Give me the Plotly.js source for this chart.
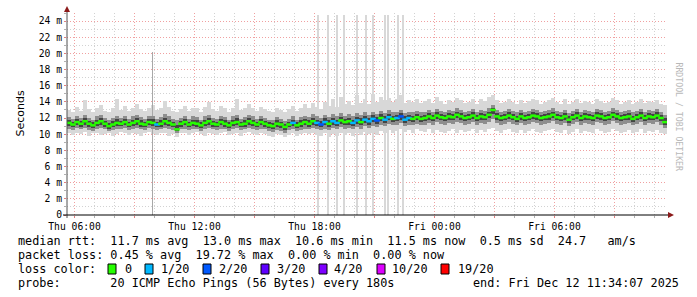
<!DOCTYPE html>
<html>
<head>
<meta charset="utf-8">
<script src="https://cdn.plot.ly/plotly-3.0.1.min.js"></script>
<style>html,body{margin:0;padding:0;background:#fff;}#chart{width:697px;height:297px;}</style>
</head>
<body>
<div id="chart"></div>
<script>
// ---- data (ms) ----
const sampleStart = '2025-12-11 05:37:30';
const sampleStepMin = 12;

const medianRtt = [
11.4,11.2,11.5,11.3,11.6,11.3,11.1,11.4,11.6,11.3,
11.0,11.2,11.4,11.3,11.5,11.2,11.4,11.6,11.3,11.2,
11.5,11.4,11.2,11.3,11.6,11.4,11.2,10.6,11.3,11.5,
11.2,11.4,11.3,11.1,11.4,11.6,11.3,11.2,11.5,11.3,
11.1,11.4,11.5,11.2,11.3,11.6,11.4,11.2,11.5,11.3,
11.1,11.0,11.3,11.2,10.9,11.2,11.4,11.1,11.3,11.5,
11.3,11.6,11.4,11.2,11.5,11.3,11.6,11.4,11.7,11.5,
11.6,11.4,11.7,11.5,11.8,11.6,11.9,11.7,12.0,11.8,
12.1,11.9,12.0,12.2,11.8,12.0,11.9,12.1,11.9,12.0,
12.2,12.0,12.3,12.1,12.0,12.2,12.1,12.4,12.2,12.0,
12.1,12.3,12.0,12.2,12.1,12.4,13.0,12.2,12.0,12.1,
12.3,12.1,11.9,12.2,12.0,12.1,12.3,12.2,12.0,12.1,
12.2,12.4,12.1,12.0,12.2,11.8,12.1,12.3,12.0,12.2,
12.1,12.0,12.3,12.2,12.0,12.1,12.4,12.2,12.0,12.1,
12.2,11.9,12.1,12.3,12.0,12.2,12.1,12.3,12.0,11.5];

const lossCount = [
0,0,0,0,0,0,0,0,0,0, 0,0,0,0,0,0,0,0,0,0,
0,0,1,0,0,0,0,0,0,0, 0,0,0,0,0,0,0,0,0,0,
0,0,0,0,0,0,0,0,0,0, 0,0,0,0,0,0,1,0,0,0,
0,0,1,2,1,0,1,1,0,0, 0,1,1,0,1,1,1,2,0,1,
1,0,1,2,1,1,0,0,0,0, 0,0,0,0,0,0,0,0,0,0,
0,0,0,0,0,0,0,0,0,0, 0,0,0,0,0,0,0,0,0,0,
0,0,0,0,0,0,0,0,0,0, 0,0,0,0,0,0,0,0,0,0,
0,0,0,0,0,0,0,0,0,0];

const pingMin = [
10.1,9.9,10.2,10.0,10.3,9.8,10.1,10.2,9.9,10.0,
10.2,9.8,10.0,10.3,10.1,9.9,10.2,10.0,9.8,10.1,
10.3,10.0,9.9,10.2,10.1,9.8,10.0,9.7,10.1,10.2,
9.9,10.1,10.3,10.0,9.8,10.2,10.0,9.9,10.1,10.3,
9.9,10.0,10.2,9.8,10.1,10.3,10.0,9.9,10.2,10.0,
9.8,9.7,10.0,9.9,9.6,9.9,10.1,9.8,10.0,10.2,
10.0,10.2,9.9,9.8,10.1,9.7,10.0,9.8,10.2,9.9,
10.1,9.8,10.2,9.9,10.3,10.0,10.2,9.9,10.4,10.1,
10.5,10.2,10.4,10.6,10.3,10.5,10.2,10.6,10.4,10.3,
10.6,10.2,10.5,10.3,10.1,10.4,10.6,10.2,10.5,10.3,
10.4,10.6,10.2,10.5,10.3,10.6,10.8,10.4,10.2,10.5,
10.6,10.3,10.1,10.5,10.2,10.4,10.6,10.3,10.1,10.4,
10.5,10.7,10.3,10.2,10.5,10.0,10.3,10.6,10.2,10.4,
10.3,10.1,10.6,10.4,10.2,10.3,10.7,10.4,10.1,10.3,
10.5,10.1,10.3,10.6,10.2,10.4,10.3,10.5,10.2,10.0];

const pingLow = [
10.7,10.5,10.8,10.6,10.8,10.5,10.4,10.7,10.8,10.6,
10.4,10.5,10.6,10.7,10.8,10.5,10.6,10.8,10.6,10.5,
10.8,10.6,10.5,10.6,10.8,10.6,10.5,10.2,10.6,10.7,
10.5,10.7,10.6,10.4,10.6,10.8,10.6,10.5,10.7,10.6,
10.4,10.6,10.8,10.5,10.6,10.8,10.7,10.5,10.7,10.6,
10.4,10.3,10.5,10.4,10.2,10.5,10.6,10.4,10.5,10.7,
10.6,10.8,10.6,10.5,10.7,10.5,10.8,10.6,10.9,10.7,
10.8,10.6,10.9,10.7,11.0,10.8,11.0,10.9,11.2,11.0,
11.3,11.1,11.2,11.4,11.0,11.2,11.1,11.3,11.1,11.2,
11.4,11.2,11.5,11.3,11.2,11.4,11.3,11.5,11.4,11.2,
11.3,11.5,11.2,11.4,11.3,11.5,11.9,11.4,11.2,11.3,
11.5,11.3,11.1,11.4,11.2,11.3,11.5,11.4,11.2,11.3,
11.4,11.6,11.3,11.2,11.4,11.0,11.3,11.5,11.2,11.4,
11.3,11.2,11.5,11.4,11.2,11.3,11.6,11.4,11.2,11.3,
11.4,11.1,11.3,11.5,11.2,11.4,11.3,11.5,11.2,10.8];

const pingHigh = [
12.1,11.9,12.3,12.0,12.4,12.0,11.8,12.2,12.4,12.0,
11.8,12.0,12.3,12.0,12.3,11.9,12.2,12.4,12.1,11.9,
12.3,12.3,11.9,12.1,12.5,12.2,11.9,11.8,12.0,12.3,
11.9,12.2,12.1,11.8,12.2,12.4,12.0,11.9,12.3,12.1,
11.8,12.2,12.4,11.9,12.1,12.4,12.2,11.9,12.3,12.0,
11.8,11.7,12.1,11.9,11.6,11.9,12.2,11.8,12.1,12.3,
12.1,12.5,12.2,12.0,12.4,12.1,12.5,12.2,12.6,12.3,
12.5,12.2,12.6,12.4,12.7,12.4,12.8,12.5,12.9,12.6,
13.0,12.7,12.8,13.0,12.6,12.8,12.7,12.9,12.7,12.8,
13.0,12.8,13.1,12.9,12.8,13.0,12.9,13.2,13.0,12.8,
12.9,13.1,12.8,13.0,12.9,13.2,13.6,13.0,12.8,12.9,
13.1,12.9,12.7,13.0,12.8,12.9,13.1,13.0,12.8,12.9,
13.0,13.2,12.9,12.8,13.0,12.6,12.9,13.1,12.8,13.0,
12.9,12.8,13.1,13.0,12.8,12.9,13.2,13.0,12.8,12.9,
13.0,12.7,12.9,13.1,12.8,13.0,12.9,13.1,12.8,12.4];

const pingMax = [
13.0,12.8,13.4,12.9,14.2,13.1,12.7,13.3,13.6,12.9,
12.8,13.2,14.4,13.0,13.5,12.9,13.2,13.8,13.1,12.9,
13.3,13.6,13.0,13.2,14.1,13.4,12.9,12.8,13.1,13.5,
12.9,13.3,13.2,12.8,13.4,14.0,13.1,12.9,13.5,13.2,
12.8,13.3,14.3,13.0,13.2,13.7,13.3,12.9,13.4,13.1,
12.9,12.8,13.2,13.0,12.7,13.1,13.5,12.9,13.3,13.8,
13.2,13.9,13.4,13.1,14.0,13.5,14.3,13.4,14.6,13.7,
14.1,13.6,14.8,13.9,14.4,13.8,15.0,14.0,14.6,14.2,
14.5,14.0,14.3,14.8,13.9,14.2,14.0,14.4,13.9,14.1,
14.3,13.9,14.6,14.1,13.8,14.2,14.0,14.5,14.2,13.9,
14.0,14.4,13.8,14.3,14.1,14.6,14.8,14.2,13.9,14.0,
14.3,14.0,13.7,14.2,13.9,14.1,14.4,14.2,13.8,14.0,
14.2,14.5,14.0,13.8,14.3,13.7,14.0,14.4,13.9,14.1,
14.0,13.8,14.4,14.1,13.9,14.0,14.5,14.2,13.8,14.0,
14.2,13.7,14.0,14.3,13.9,14.1,14.0,14.2,13.8,13.6];

// isolated single-ping spikes
const spikeTimes = ['2025-12-11 09:55','2025-12-11 18:10','2025-12-11 18:40','2025-12-11 19:07',
  '2025-12-11 19:28','2025-12-11 20:07','2025-12-11 20:34','2025-12-11 20:55',
  '2025-12-11 21:31','2025-12-11 21:40','2025-12-11 22:10','2025-12-11 22:25'];
const spikeMax = [20.2,24.8,24.8,24.8,24.8,24.8,24.8,24.8,24.8,24.8,24.8,24.8];

const lossLevels = [0,1,2,3,4,10,19];
const lossLabels = ['0','1/20','2/20','3/20','4/20','10/20','19/20'];
const lossColors = ['#26ff00','#00b8ff','#0059ff','#5e00ff','#7e00ff','#dd00ff','#ff0000'];

const xTickVals = ['2025-12-11 06:00','2025-12-11 09:00','2025-12-11 12:00','2025-12-11 15:00',
  '2025-12-11 18:00','2025-12-11 21:00','2025-12-12 00:00','2025-12-12 03:00',
  '2025-12-12 06:00','2025-12-12 09:00'];
const xTickText = ['Thu 06:00','','Thu 12:00','','Thu 18:00','','Fri 00:00','','Fri 06:00',''];
const yTickVals = [0,2,4,6,8,10,12,14,16,18,20,22,24];
const yTickText = ['0','2 m','4 m','6 m','8 m','10 m','12 m','14 m','16 m','18 m','20 m','22 m','24 m'];

const statLines = [
  'median rtt:  11.7 ms avg  13.0 ms max  10.6 ms min  11.5 ms now  0.5 ms sd  24.7   am/s',
  'packet loss: 0.45 % avg  19.72 % max  0.00 % min  0.00 % now',
  'loss color:',
  'probe:       20 ICMP Echo Pings (56 Bytes) every 180s'
];
const endText = 'end: Fri Dec 12 11:34:07 2025';

// ---- build ----
function parseT(s){ const m = s.match(/(\d+)-(\d+)-(\d+) (\d+):(\d+)(?::(\d+))?/);
  return Date.UTC(+m[1], +m[2]-1, +m[3], +m[4], +m[5], +(m[6]||0)); }
function fmt(ms){ return new Date(ms).toISOString().slice(0,19).replace('T',' '); }
const stepMs = sampleStepMin*60000;
const t0 = parseT(sampleStart);
const xs = medianRtt.map((_, i) => fmt(t0 + (i+0.5)*stepMs));
const rangeStart = sampleStart, rangeEnd = fmt(t0 + medianRtt.length*stepMs);

const W = 600, H = 202, L = 67, T = 13;
const px = p => (p - L)/W;       // pixel -> paper x
const py = p => (T + H - p)/H;   // pixel -> paper y

// smoke core: halfway between the quartile band and the median
const coreLo = pingLow.map((v,i) => (v + medianRtt[i]) / 2);
const coreHi = pingHigh.map((v,i) => (v + medianRtt[i]) / 2);

const traces = [];
traces.push({type:'bar', x: spikeTimes.slice(1), y: spikeMax.slice(1), base: 0,
  width: 300000, marker:{color:'#d8d8d8', line:{width:0}}, hoverinfo:'skip'});
traces.push({type:'bar', x: xs, base: pingMin, y: pingMax.map((v,i)=>v-pingMin[i]),
  width: stepMs, marker:{color:'#d8d8d8', line:{width:0}}, hoverinfo:'skip'});
traces.push({type:'bar', x: spikeTimes.slice(0,1), y: spikeMax.slice(0,1), base: 0,
  width: 220000, marker:{color:'#a8a8a8', line:{width:0}}, hoverinfo:'skip'});
traces.push({type:'bar', x: xs, base: pingLow, y: pingHigh.map((v,i)=>v-pingLow[i]),
  width: stepMs, marker:{color:'#8e8e8e', line:{width:0}}, hoverinfo:'skip'});
traces.push({type:'bar', x: xs, base: coreLo, y: coreHi.map((v,i)=>v-coreLo[i]),
  width: stepMs, marker:{color:'#444444', line:{width:0}}, hoverinfo:'skip'});
traces.push({type:'scatter', mode:'markers', x: xs, y: medianRtt,
  marker:{symbol:'line-ew-open', size:4,
    color: lossCount.map(c => lossColors[lossLevels.indexOf(c)]),
    line:{width:2.5}}, hoverinfo:'skip'});

const mono = 'DejaVu Sans Mono';
const annotations = [];
const lineY = [241, 255, 269, 283];
statLines.forEach((s, k) => annotations.push({xref:'paper', yref:'paper', x: px(16), y: py(lineY[k]),
  xanchor:'left', yanchor:'middle', text: s.replace(/ /g,'&nbsp;'), showarrow:false,
  font:{family:mono, size:11.8, color:'#000'}}));
annotations.push({xref:'paper', yref:'paper', x: px(681), y: py(283), xanchor:'right', yanchor:'middle',
  text: endText.replace(/ /g,'&nbsp;'), showarrow:false, font:{family:mono, size:11.8, color:'#000'}});
const sqX = [108,145,203,261,319,377,441];
const lblX = [123,159,217,275,332,390,456];
const shapes = [];
lossLabels.forEach((lab, k) => {
  shapes.push({type:'rect', xref:'paper', yref:'paper', x0: px(sqX[k]), x1: px(sqX[k]+8),
    y0: py(274), y1: py(264), fillcolor: lossColors[k], line:{color:'#000', width:1}});
  annotations.push({xref:'paper', yref:'paper', x: px(lblX[k]), y: py(269), xanchor:'left', yanchor:'middle',
    text: lab, showarrow:false, font:{family:mono, size:11.8, color:'#000'}});
});
annotations.push({xref:'paper', yref:'paper', x: px(11), y: 0.5, textangle:-90, text:'Seconds',
  showarrow:false, font:{family:'DejaVu Sans', size:11, color:'#000'}});
annotations.push({xref:'paper', yref:'paper', x: px(686), y: py(60), textangle:90, text:'RRDTOOL / TOBI OETIKER',
  showarrow:false, font:{family:mono, size:8.2, color:'#b8b8b8'}});

// axis lines and arrows
shapes.push({type:'line', xref:'paper', yref:'paper', x0:0, x1:0, y0:py(218), y1:py(10), line:{color:'#505050', width:1}});
shapes.push({type:'line', xref:'paper', yref:'paper', x0:px(63), x1:px(670), y0:0, y1:0, line:{color:'#000', width:1}});
shapes.push({type:'path', xref:'paper', yref:'paper',
  path:`M ${px(64)} ${py(12)} L ${px(70)} ${py(12)} L ${px(67)} ${py(6)} Z`, fillcolor:'#8b1a1a', line:{width:0}});
shapes.push({type:'path', xref:'paper', yref:'paper',
  path:`M ${px(668)} ${py(212)} L ${px(668)} ${py(218)} L ${px(674)} ${py(215)} Z`, fillcolor:'#8b1a1a', line:{width:0}});

const layout = {
  width: 697, height: 297,
  margin: {l: L, r: 697 - L - W, t: T, b: 297 - T - H, pad: 0},
  paper_bgcolor: '#fff', plot_bgcolor: '#fff',
  showlegend: false, barmode: 'overlay', bargap: 0,
  font: {family: mono, size: 9.7, color: '#000'},
  xaxis: {type:'date', range:[rangeStart, rangeEnd], tickmode:'array', tickvals: xTickVals, ticktext: xTickText,
    showgrid:true, gridcolor:'#f0a0a0', griddash:'1px,2px', gridwidth:1,
    ticks:'outside', ticklen:2, tickcolor:'#e08080', showline:false, zeroline:false,
    tickfont:{family:mono, size:9.7, color:'#000'}, fixedrange:true,
    minor:{dtick:3600000, tick0:'2025-12-11 06:00', showgrid:true, gridcolor:'#d2d2d2', griddash:'1px,2px',
      ticks:'outside', ticklen:2, tickcolor:'#b0b0b0'}},
  yaxis: {range:[0,25], tickmode:'array', tickvals: yTickVals, ticktext: yTickText,
    showgrid:true, gridcolor:'#f0a0a0', griddash:'1px,2px', gridwidth:1,
    ticks:'outside', ticklen:2, tickcolor:'#e08080', showline:false, zeroline:false,
    tickfont:{family:mono, size:9.7, color:'#000'}, fixedrange:true,
    minor:{dtick:1, showgrid:true, gridcolor:'#d2d2d2', griddash:'1px,2px', ticks:'outside', ticklen:2, tickcolor:'#b0b0b0'}},
  shapes, annotations
};
Plotly.newPlot('chart', traces, layout, {staticPlot:true, displayModeBar:false});
</script>
</body>
</html>
